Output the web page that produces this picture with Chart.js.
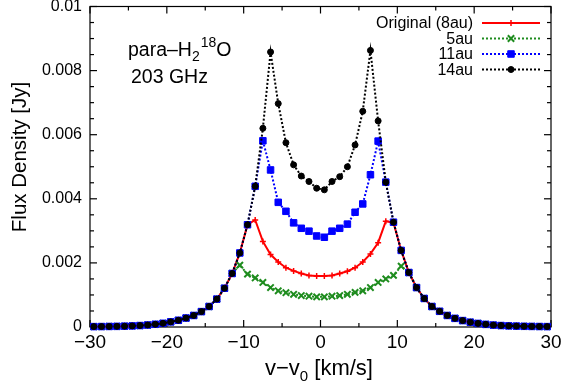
<!DOCTYPE html>
<html>
<head>
<meta charset="utf-8">
<script src="https://cdn.jsdelivr.net/npm/chart.js@4.4.0/dist/chart.umd.min.js"></script>
<style>
  html, body { margin: 0; padding: 0; background: #fff; }
  #wrap { width: 566px; height: 392px; }
</style>
</head>
<body>
<div id="wrap"><canvas id="chartCanvas" width="566" height="392"></canvas></div>
<script>
// --- Data ---
const velocity = [
  -29.5, -28.5, -27.5, -26.5, -25.5, -24.5, -23.5, -22.5, -21.5, -20.5,
  -19.5, -18.5, -17.5, -16.5, -15.5, -14.5, -13.5, -12.5, -11.5, -10.5,
  -9.5, -8.5, -7.5, -6.5, -5.5, -4.5, -3.5, -2.5, -1.5, -0.5,
  0.5, 1.5, 2.5, 3.5, 4.5, 5.5, 6.5, 7.5, 8.5, 9.5,
  10.5, 11.5, 12.5, 13.5, 14.5, 15.5, 16.5, 17.5, 18.5, 19.5,
  20.5, 21.5, 22.5, 23.5, 24.5, 25.5, 26.5, 27.5, 28.5, 29.5
];

// wings shared by all models (-29.5..-11.5 and 11.5..29.5)
const wingLeft = [
  0.000012, 0.000014, 0.000017, 0.00002, 0.000026, 0.000034, 0.000045, 0.000062, 0.000085, 0.000115,
  0.00016, 0.00021, 0.00028, 0.00036, 0.00048, 0.00064, 0.00087, 0.00121, 0.00167
];
const wingRight = [
  0.0017, 0.00123, 0.00089, 0.00064, 0.00049, 0.00036, 0.00027, 0.0002, 0.00015, 0.000112,
  0.000082, 0.00006, 0.000045, 0.000035, 0.000028, 0.000022, 0.000018, 0.000015, 0.000012
];

// line cores, -10.5..10.5
const core8au = [
  0.00231, 0.00319, 0.00334, 0.00267, 0.00226, 0.00203, 0.00185, 0.00175, 0.00167, 0.00161, 0.00159,
  0.00159, 0.00161, 0.00167, 0.00174, 0.00185, 0.00203, 0.00228, 0.00263, 0.0033, 0.00325, 0.00239
];
const core5au = [
  0.00193, 0.00165, 0.00153, 0.00139, 0.00123, 0.00113, 0.00107, 0.00102, 0.00098, 0.00096, 0.00094,
  0.00094, 0.00096, 0.00098, 0.00102, 0.00108, 0.00113, 0.00123, 0.00139, 0.0015, 0.00161, 0.0019
];
const core11au = [
  0.00231, 0.00319, 0.00439, 0.00581, 0.0049, 0.00389, 0.00361, 0.00325, 0.00308, 0.00299, 0.00284,
  0.0028, 0.00299, 0.00308, 0.00321, 0.00358, 0.00384, 0.00475, 0.0058, 0.00452, 0.00327, 0.00239
];
const core14au = [
  0.00231, 0.00319, 0.00439, 0.0062, 0.00858, 0.00697, 0.00575, 0.00506, 0.00471, 0.00454, 0.00433,
  0.00428, 0.00454, 0.00469, 0.005, 0.00568, 0.00673, 0.00863, 0.00643, 0.00452, 0.00327, 0.00239
];

const flux8au = [...wingLeft, ...core8au, ...wingRight];
const flux5au = [...wingLeft, ...core5au, ...wingRight];
const flux11au = [...wingLeft, ...core11au, ...wingRight];
const flux14au = [...wingLeft, ...core14au, ...wingRight];

const seriesNames = ["Original (8au)", "5au", "11au", "14au"];
const xTicks = [-30, -20, -10, 0, 10, 20, 30];
const yTicks = [0, 0.002, 0.004, 0.006, 0.008, 0.01];

const FONT = "'Liberation Sans', Arial, Helvetica, sans-serif";

// --- Styles ---
const styles = [
  { color: "#ff0000", dash: [], width: 2, point: "cross", radius: 3, pw: 1.5 },
  { color: "#1e8c1e", dash: [2, 2], width: 2, point: "crossRot", radius: 4.5, pw: 2 },
  { color: "#0000ff", dash: [2, 2], width: 2, point: "rect", radius: 4.6, pw: 1 },
  { color: "#000000", dash: [2, 2], width: 2, point: "circle", radius: 3, pw: 1 }
];
const fluxes = [flux8au, flux5au, flux11au, flux14au];

const toPoints = ys => velocity.map((v, i) => ({ x: v, y: ys[i] }));

const datasets = fluxes.map((ys, i) => {
  const s = styles[i];
  return {
    label: seriesNames[i],
    data: toPoints(ys),
    borderColor: s.color,
    backgroundColor: s.color,
    borderWidth: s.width,
    borderDash: s.dash,
    pointStyle: s.point,
    pointRadius: s.radius,
    pointBorderWidth: s.pw,
    pointBorderColor: s.color,
    pointBackgroundColor: s.color,
    tension: 0,
    clip: false,
    order: 4 - i   // black on top, red at the bottom
  };
});

// --- Frame, inward ticks, legend and labels ---
const framePlugin = {
  id: "frame",
  beforeDatasetsDraw(chart) {
    const { ctx, chartArea: a, scales } = chart;
    const xs = scales.x, ys = scales.y;
    ctx.save();
    ctx.strokeStyle = "#000";
    ctx.lineWidth = 1.2;
    ctx.strokeRect(a.left, a.top, a.right - a.left, a.bottom - a.top);

    const tick = (x1, y1, x2, y2) => {
      ctx.beginPath(); ctx.moveTo(x1, y1); ctx.lineTo(x2, y2); ctx.stroke();
    };
    for (let v = -30; v <= 30; v += 5) {
      const px = xs.getPixelForValue(v);
      const len = v % 10 === 0 ? 7 : 4;
      tick(px, a.bottom, px, a.bottom - len);
      tick(px, a.top, px, a.top + len);
    }
    for (let k = 0; k <= 20; k++) {
      const py = ys.getPixelForValue(k * 0.0005);
      const len = k % 4 === 0 ? 7 : 4;
      tick(a.left, py, a.left + len, py);
      tick(a.right, py, a.right - len, py);
    }
    ctx.restore();
  },
  afterDraw(chart) {
    const { ctx } = chart;
    ctx.save();
    ctx.fillStyle = "#000";

    // legend, gnuplot style
    const rows = [23, 38.5, 54, 69.5];
    ctx.font = "16px " + FONT;
    ctx.textAlign = "right";
    ctx.textBaseline = "middle";
    seriesNames.forEach((name, i) => {
      const s = styles[i];
      const y = rows[i];
      ctx.fillStyle = "#000";
      ctx.fillText(name, 473, y + 1);
      ctx.strokeStyle = s.color;
      ctx.fillStyle = s.color;
      ctx.lineWidth = s.width;
      ctx.setLineDash(s.dash);
      ctx.beginPath(); ctx.moveTo(482, y); ctx.lineTo(540, y); ctx.stroke();
      ctx.setLineDash([]);
      ctx.lineWidth = s.pw;
      Chart.helpers.drawPoint(ctx, { pointStyle: s.point, radius: s.radius, rotation: 0, borderWidth: s.pw }, 511, y);
    });

    // annotation: para-H2 18O / 203 GHz
    ctx.fillStyle = "#000";
    ctx.textAlign = "left";
    ctx.textBaseline = "alphabetic";
    let x = 128;
    const big = "19.5px " + FONT, small = "14px " + FONT;
    ctx.font = big; ctx.fillText("para\u2013H", x, 56); x += ctx.measureText("para\u2013H").width;
    ctx.font = small; ctx.fillText("2", x, 61); x += ctx.measureText("2").width + 1;
    ctx.fillText("18", x, 47); x += ctx.measureText("18").width;
    ctx.font = big; ctx.fillText("O", x, 56);
    ctx.fillText("203 GHz", 131, 83);

    // x axis title
    const xt = "22px " + FONT, xs = "15px " + FONT;
    ctx.font = xt; const w1 = ctx.measureText("v\u2212v").width, w3 = ctx.measureText(" [km/s]").width;
    ctx.font = xs; const w2 = ctx.measureText("0").width;
    x = 319 - (w1 + w2 + w3) / 2;
    ctx.font = xt; ctx.fillText("v\u2212v", x, 375); x += w1;
    ctx.font = xs; ctx.fillText("0", x, 381); x += w2;
    ctx.font = xt; ctx.fillText(" [km/s]", x, 375);

    // y axis title
    ctx.font = "20.5px " + FONT;
    ctx.translate(26, 157);
    ctx.rotate(-Math.PI / 2);
    ctx.textAlign = "center";
    ctx.fillText("Flux Density [Jy]", 0, 0);
    ctx.restore();
  }
};

const chart = new Chart(document.getElementById("chartCanvas").getContext("2d"), {
  type: "line",
  data: { datasets },
  options: {
    responsive: false,
    devicePixelRatio: 1,
    animation: false,
    layout: { padding: { top: 5, right: 15, bottom: 0, left: 0 } },
    plugins: { legend: { display: false }, tooltip: { enabled: false } },
    scales: {
      x: {
        type: "linear", min: -30, max: 30,
        afterBuildTicks: s => { s.ticks = xTicks.map(v => ({ value: v })); },
        afterFit: s => { s.height = 65; s.paddingLeft = 0; s.paddingRight = 0; },
        grid: { display: false, drawTicks: false },
        border: { display: false },
        ticks: {
          color: "#000", padding: 4, maxRotation: 0,
          font: { family: FONT, size: 19 },
          callback: v => String(v).replace("-", "\u2212")
        }
      },
      y: {
        type: "linear", min: 0, max: 0.01,
        afterBuildTicks: s => { s.ticks = yTicks.map(v => ({ value: v })); },
        afterFit: s => { s.width = 90; s.paddingTop = 0; s.paddingBottom = 0; },
        grid: { display: false, drawTicks: false },
        border: { display: false },
        ticks: {
          color: "#000", padding: 8,
          font: { family: FONT, size: 16 },
          callback: v => String(+v.toFixed(4))
        }
      }
    }
  },
  plugins: [framePlugin]
});
</script>
</body>
</html>
